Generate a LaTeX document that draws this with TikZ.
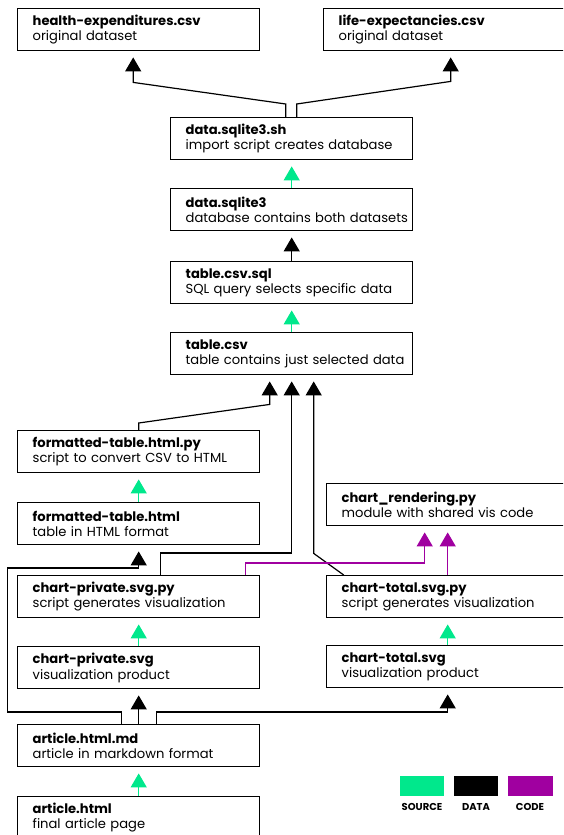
\documentclass[tikz,border=0pt]{standalone}
\usepackage{fontspec}
\setmainfont{Poppins}
\usetikzlibrary{
    arrows.meta,
    calc,
    positioning
}
\definecolor{srcgreen}{RGB}{0,232,140}
\definecolor{codepurple}{RGB}{160,0,160}

\tikzset{
    file/.style={draw, line width=1.4pt, anchor=north west,
                 minimum width=242pt, minimum height=42pt,
                 text width=212pt, inner xsep=15pt, align=left,
                 font=\fontsize{13.1}{15.5}\selectfont},
    link/.style={line width=1.2pt, shorten >=6pt,
                 -{Triangle[width=16pt,length=14pt]}},
    data/.style={link, black},
    source/.style={link, srcgreen},
    code/.style={link, codepurple},
    legendlabel/.style={font=\fontsize{10}{12}\selectfont\bfseries}
}
\newcommand{\fileinfo}[2]{\mbox{\textbf{#1}}\\\mbox{#2}}

\begin{document}
\begin{tikzpicture}[x=1pt, y=-1pt]
    \clip (0,0) rectangle (563,835);

    % files
    \node[file] (he)    at (17,8)    {\fileinfo{health-expenditures.csv}{original dataset}};
    \node[file] (le)    at (323,8)   {\fileinfo{life-expectancies.csv}{original dataset}};
    \node[file] (sh)    at (170,117) {\fileinfo{data.sqlite3.sh}{import script creates database}};
    \node[file] (db)    at (170,188) {\fileinfo{data.sqlite3}{database contains both datasets}};
    \node[file] (sql)   at (170,261) {\fileinfo{table.csv.sql}{SQL query selects specific data}};
    \node[file] (csv)   at (170,332) {\fileinfo{table.csv}{table contains just selected data}};
    \node[file] (fpy)   at (17,430)  {\fileinfo{formatted-table.html.py}{script to convert CSV to HTML}};
    \node[file] (fhtml) at (17,502)  {\fileinfo{formatted-table.html}{table in HTML format}};
    \node[file] (cr)    at (326,483) {\fileinfo{chart\_rendering.py}{module with shared vis code}};
    \node[file] (cppy)  at (17,575)  {\fileinfo{chart-private.svg.py}{script generates visualization}};
    \node[file] (ctpy)  at (326,575) {\fileinfo{chart-total.svg.py}{script generates visualization}};
    \node[file] (cp)    at (17,646)  {\fileinfo{chart-private.svg}{visualization product}};
    \node[file] (ct)    at (326,645) {\fileinfo{chart-total.svg}{visualization product}};
    \node[file] (md)    at (17,724)  {\fileinfo{article.html.md}{article in markdown format}};
    \node[file] (art)   at (17,796)  {\fileinfo{article.html}{final article page}};

    % dependencies
    \draw[data] ([xshift=-6pt]sh.north) -- ++(0,-13)
        -- ([xshift=-5.5pt,yshift=-31pt]he.south) -- ([xshift=-5.5pt]he.south);
    \draw[data] ([xshift=5pt]sh.north) -- ++(0,-13)
        -- ([xshift=6pt,yshift=-30pt]le.south) -- ([xshift=6pt]le.south);
    \draw[source] (db.north) -- (sh.south);
    \draw[data] (sql.north) -- (db.south);
    \draw[source] (csv.north) -- (sql.south);

    \draw[data] (fpy.north) -- ++(0,-7)
        -- ([xshift=-22pt,yshift=-29pt]csv.south) -- ([xshift=-22pt]csv.south);
    \draw[data] ([xshift=22pt]cppy.north) -- ++(0,-22)
        -| (csv.south);
    \draw[data] ([xshift=-104pt]ctpy.north)
        -- ([xshift=22pt,yshift=-178pt]csv.south) -- ([xshift=22pt]csv.south);
    \draw[source] (fhtml.north) -- (fpy.south);

    \draw[code] ([xshift=107pt]cppy.north) -- ++(0,-12)
        -| ([xshift=-23pt]cr.south);
    \draw[code] (ctpy.north) -- (cr.south);
    \draw[source] (cp.north) -- (cppy.south);
    \draw[source] (ct.north) -- (ctpy.south);

    \draw[data] ([xshift=-17pt]md.north) -- ++(0,-12) -- ++(-114,0)
        -- ++(0,-144) -| (fhtml.south);
    \draw[data] (md.north) -- (cp.south);
    \draw[data] ([xshift=18pt]md.north) -- ++(0,-12) -| (ct.south);
    \draw[source] (art.north) -- (md.south);

    % legend
    \fill[srcgreen]   (400,776) rectangle (444,796);
    \fill[black]      (454,776) rectangle (498,796);
    \fill[codepurple] (508,776) rectangle (553,796);
    \node[legendlabel] (lsrc)  at (422,807) {SOURCE};
    \node[legendlabel] (ldata) at (476,807) {DATA};
    \node[legendlabel] (lcode) at (530,807) {CODE};
\end{tikzpicture}
\end{document}
